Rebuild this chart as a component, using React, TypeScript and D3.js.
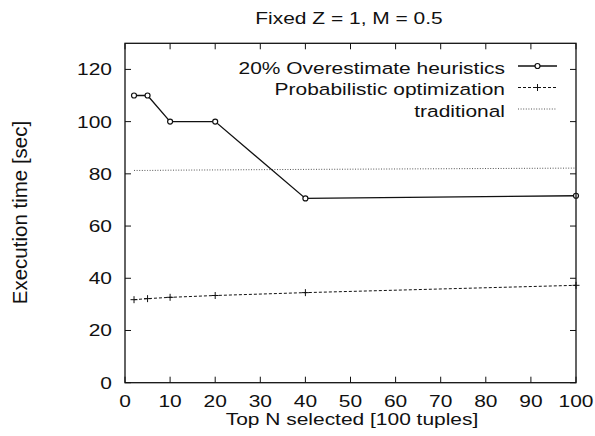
import React from "react";
import * as d3 from "d3";

const topN = [2, 5, 10, 20, 40, 100];
const heuristics = [110, 110, 100, 100, 70.6, 71.6];
const probabilistic = [31.8, 32.2, 32.7, 33.4, 34.5, 37.3];
const traditional = [81.3, 81.3, 81.4, 81.5, 81.7, 82.2];
const xTicks = [0, 10, 20, 30, 40, 50, 60, 70, 80, 90, 100];
const yTicks = [0, 20, 40, 60, 80, 100, 120];
const seriesNames = ["20% Overestimate heuristics", "Probabilistic optimization", "traditional"];

const W = 595, H = 436;
const L = 125, R = 576, T = 43.3, B = 382.7;
const FONT = "'Liberation Sans', Arial, Helvetica, sans-serif";
const SX = 1.27;
const FS = 16.5;

function Txt({ x, y, anchor = "start", size = FS, children }: any) {
  return (
    <text
      transform={`translate(${x},${y}) scale(${SX},1)`}
      textAnchor={anchor}
      fontSize={size}
      fontFamily={FONT}
      fill="#111"
    >
      {children}
    </text>
  );
}

export default function App() {
  const x = d3.scaleLinear().domain([0, 100]).range([L, R]);
  const y = d3.scaleLinear().domain([0, 130]).range([B, T]);
  const line = d3
    .line<number>()
    .x((_, i) => x(topN[i]))
    .y((d) => y(d));

  const tick = 6;
  const legendX1 = 518, legendX2 = 557, legendTextX = 505;
  const legendBase = [73.5, 95, 116.5];

  const plus = (cx: number, cy: number, k: string) => (
    <g key={k} stroke="#111" strokeWidth={1}>
      <line x1={cx - 3.5} x2={cx + 3.5} y1={cy} y2={cy} />
      <line x1={cx} x2={cx} y1={cy - 3.5} y2={cy + 3.5} />
    </g>
  );

  return (
    <svg
      width={W}
      height={H}
      style={{ position: "absolute", left: 0, top: 0, background: "#fff" }}
    >
      <rect x={0} y={0} width={W} height={H} fill="#fff" />
      <Txt x={349} y={24} anchor="middle">Fixed Z = 1, M = 0.5</Txt>

      {xTicks.map((t) => (
        <g key={"xt" + t} stroke="#111" strokeWidth={1}>
          <line x1={x(t)} x2={x(t)} y1={B} y2={B - tick} />
          <line x1={x(t)} x2={x(t)} y1={T} y2={T + tick} />
        </g>
      ))}
      {yTicks.map((t) => (
        <g key={"yt" + t} stroke="#111" strokeWidth={1}>
          <line x1={L} x2={L + tick} y1={y(t)} y2={y(t)} />
          <line x1={R} x2={R - tick} y1={y(t)} y2={y(t)} />
        </g>
      ))}
      {xTicks.map((t) => (
        <Txt key={"xl" + t} x={x(t)} y={407} anchor="middle">{String(t)}</Txt>
      ))}
      {yTicks.map((t) => (
        <Txt key={"yl" + t} x={112} y={y(t) + 6} anchor="end">{String(t)}</Txt>
      ))}

      <Txt x={352} y={425} anchor="middle">Top N selected [100 tuples]</Txt>
      <text
        transform={`translate(27,212.5) rotate(-90)`}
        textAnchor="middle"
        fontSize={20.5}
        fontFamily={FONT}
        fill="#111"
      >
        Execution time [sec]
      </text>

      <path d={line(traditional) || ""} fill="none" stroke="#555" strokeWidth={1} strokeDasharray="1,1.6" />
      <path d={line(probabilistic) || ""} fill="none" stroke="#111" strokeWidth={1} strokeDasharray="3,2" />
      <path d={line(heuristics) || ""} fill="none" stroke="#111" strokeWidth={1.3} />
      {probabilistic.map((v, i) => plus(x(topN[i]), y(v), "p" + i))}
      {heuristics.map((v, i) => (
        <circle key={"h" + i} cx={x(topN[i])} cy={y(v)} r={2.5} fill="#fff" stroke="#111" strokeWidth={1.2} />
      ))}

      {seriesNames.map((n, i) => (
        <Txt key={"lg" + i} x={legendTextX} y={legendBase[i]} anchor="end">{n}</Txt>
      ))}
      <line x1={legendX1} x2={legendX2} y1={legendBase[0] - 7.5} y2={legendBase[0] - 7.5} stroke="#111" strokeWidth={1.3} />
      <circle cx={(legendX1 + legendX2) / 2} cy={legendBase[0] - 7.5} r={2.5} fill="#fff" stroke="#111" strokeWidth={1.2} />
      <line x1={legendX1} x2={legendX2} y1={legendBase[1] - 7.5} y2={legendBase[1] - 7.5} stroke="#111" strokeWidth={1} strokeDasharray="3,2" />
      {plus((legendX1 + legendX2) / 2, legendBase[1] - 7.5, "lp")}
      <line x1={legendX1} x2={legendX2} y1={legendBase[2] - 7.5} y2={legendBase[2] - 7.5} stroke="#555" strokeWidth={1} strokeDasharray="1,1.6" />

      <rect x={L} y={T} width={R - L} height={B - T} fill="none" stroke="#111" strokeWidth={1.3} />
    </svg>
  );
}
